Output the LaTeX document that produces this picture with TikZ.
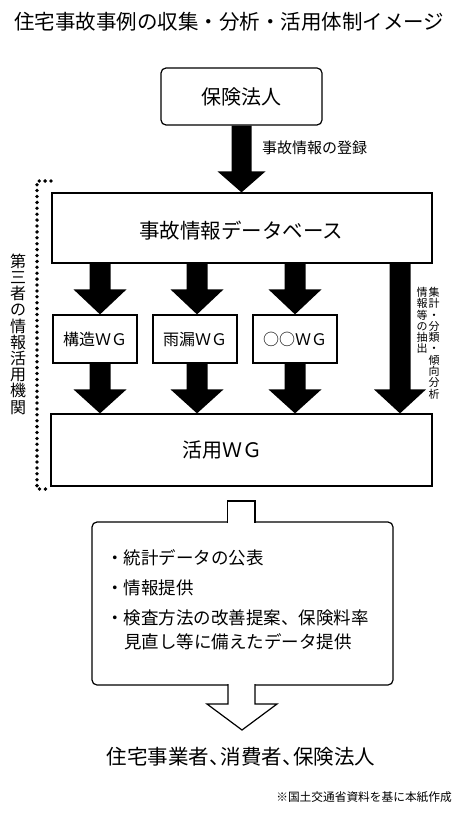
\documentclass[tikz,border=0pt]{standalone}
\usepackage{fontspec}
\setmainfont{Noto Sans CJK JP}
\usetikzlibrary{calc}
\newcommand\jfs[2]{\fontsize{#1pt}{#2pt}\selectfont}
% block arrow: from, to, half shaft, half head, head length
\newcommand\blockarrow[5]{%
  \fill let \p1=(#1), \p2=(#2) in
    (\x1-#3,\y1) -- (\x1-#3,\y2+#5) -- (\x1-#4,\y2+#5) -- (\x1,\y2)
    -- (\x1+#4,\y2+#5) -- (\x1+#3,\y2+#5) -- (\x1+#3,\y1) -- cycle;}
\begin{document}
\begin{tikzpicture}[x=1pt,y=-1pt,
  every node/.style={inner sep=0pt},
  box/.style={draw, line width=1.2pt, fill=white, inner sep=0pt},
  hollow/.style={draw, line width=1.2pt, fill=white, line join=miter},
  dotline/.style={line width=3.8pt, line cap=round, dash pattern=on 0pt off 5.9pt}]
\useasboundingbox (0,0) rectangle (462,818);

% title
\node[font=\jfs{20.5}{20.5}, anchor=west] (title) at (14,22) {住宅事故事例の収集・分析・活用体制イメージ};

% boxes
\node[box, rounded corners=5pt, minimum width=161pt, minimum height=57pt, font=\jfs{20}{20}] (hoken) at (241.5,96.5) {保険法人};
\node[box, minimum width=380pt, minimum height=70pt] (db) at (242,228) {};
\node[font=\jfs{20.5}{20.5}] (dbt) at (241,231) {事故情報データベース};
\node[box, minimum width=84pt, minimum height=48pt, font=\jfs{16}{16}] (wg1) at (95,339) {構造ＷＧ};
\node[box, minimum width=84pt, minimum height=48pt, font=\jfs{16}{16}] (wg2) at (195,339) {雨漏ＷＧ};
\node[box, minimum width=84pt, minimum height=48pt, font=\jfs{16}{16}] (wg3) at (295,339) {○○ＷＧ};
\node[box, minimum width=381pt, minimum height=72pt] (use) at (241.5,450) {};
\node[font=\jfs{20}{20}] (uset) at (222,450) {活用ＷＧ};

% arrow columns
\coordinate (c1) at (100,0);
\coordinate (c2) at (197,0);
\coordinate (c3) at (295,0);
\coordinate (c4) at (400,0);

% connectors
\blockarrow{hoken.south}{db.north}{10pt}{24pt}{21pt}
\blockarrow{db.south -| c1}{wg1.north -| c1}{10.5pt}{26.5pt}{25pt}
\blockarrow{db.south -| c2}{wg2.north -| c2}{10.5pt}{26.5pt}{25pt}
\blockarrow{db.south -| c3}{wg3.north -| c3}{10.5pt}{26.5pt}{25pt}
\blockarrow{db.south -| c4}{use.north -| c4}{10.5pt}{26pt}{24pt}
\blockarrow{wg1.south -| c1}{use.north -| c1}{10.5pt}{26.5pt}{24pt}
\blockarrow{wg2.south -| c2}{use.north -| c2}{10.5pt}{26.5pt}{24pt}
\blockarrow{wg3.south -| c3}{use.north -| c3}{10.5pt}{26.5pt}{24pt}

% labels
\node[font=\jfs{15}{15}, anchor=west] (reg) at (262,148) {事故情報の登録};
\node[font=\jfs{11}{11.3}, align=center, anchor=north] (v1) at (434,287) {集\\計\\・\\分\\類\\・\\傾\\向\\分\\析};
\node[font=\jfs{11}{11.3}, align=center, anchor=north] (v2) at (422,287) {情\\報\\等\\の\\抽\\出};

% dotted bracket and side label
\draw[dotline] (51,181) -- (37,181) -- (37,489) -- (51,489);
\node[font=\jfs{16}{16.2}, align=center] (side) at (18,334) {第\\三\\者\\の\\情\\報\\活\\用\\機\\関};

% output box with hollow arrow
\node[box, rounded corners=5pt, minimum width=301pt, minimum height=163pt] (outbox) at (242.5,603.5) {};
\filldraw[hollow] (227.5,523) -- (227.5,501) -- (255,501) -- (255,523);
\filldraw[hollow] (228,684) -- (228,704) -- (207,704) -- (242,730) -- (277,704) -- (255,704) -- (255,684);

\node[font=\jfs{17.5}{17.5}, anchor=west] (b1) at (106,558) {・統計データの公表};
\node[font=\jfs{17.5}{17.5}, anchor=west] (b2) at (106,588) {・情報提供};
\node[font=\jfs{17.5}{17.5}, anchor=west] (b3) at (106,618) {・検査方法の改善提案、保険料率};
\node[font=\jfs{17.5}{17.5}, anchor=west] (b4) at (124,642) {見直し等に備えたデータ提供};

\node[font=\jfs{20.5}{20.5}] (dest) at (241,757) {住宅事業者、\hspace{-0.45em}消費者、\hspace{-0.45em}保険法人};
\node[font=\jfs{11.7}{11.7}, anchor=east] (note) at (452,797) {※国土交通省資料を基に本紙作成};
\end{tikzpicture}
\end{document}
